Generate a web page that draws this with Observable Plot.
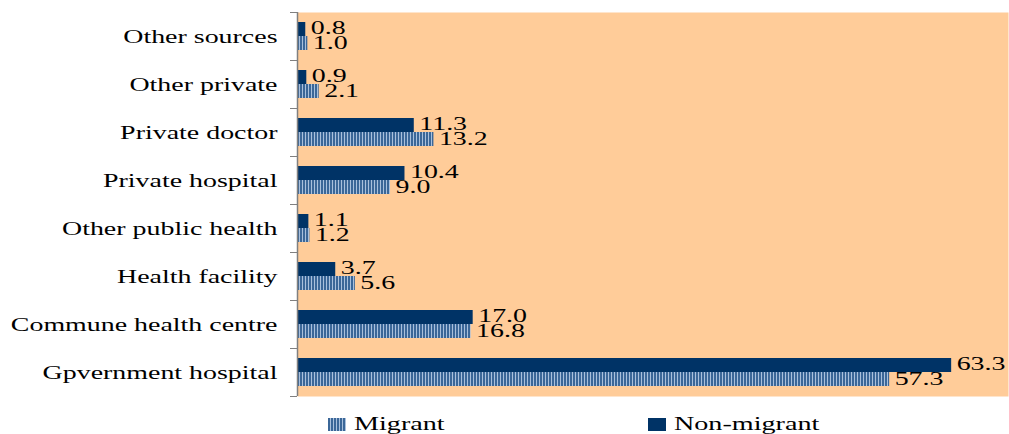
<!DOCTYPE html>
<html>
<head>
<meta charset="utf-8">
<script src="https://cdn.jsdelivr.net/npm/d3@7"></script>
<script src="https://cdn.jsdelivr.net/npm/@observablehq/plot@0.6"></script>
<style>
  html, body { margin: 0; padding: 0; background: #fff; }
  #chart { position: relative; width: 1009px; height: 434px; }
  #legend { position: absolute; left: 0; top: 413px; width: 1009px; height: 21px;
    font-family: "Liberation Serif", serif; font-size: 19px; color: #000; }
  .item { position: absolute; top: 0px; display: flex; align-items: center; }
  .sw { width: 18px; height: 13px; margin-right: 8px; }
  .lbl { display: inline-block; transform: scaleX(1.48); transform-origin: left center; }
</style>
</head>
<body>
<div id="chart"></div>
<script>
const categories = ["Other sources", "Other private", "Private doctor", "Private hospital",
  "Other public health", "Health facility", "Commune health centre", "Gpvernment hospital"];
const migrant =    [1.0, 2.1, 13.2, 9.0, 1.2, 5.6, 16.8, 57.3];
const nonMigrant = [0.8, 0.9, 11.3, 10.4, 1.1, 3.7, 17.0, 63.3];
const seriesNames = ["Migrant", "Non-migrant"];

const mData = categories.map((c, i) => ({category: c, value: migrant[i]}));
const nData = categories.map((c, i) => ({category: c, value: nonMigrant[i]}));

const font = "Liberation Serif";
const plot = Plot.plot({
  width: 1009,
  height: 400,
  marginLeft: 297,
  marginRight: 1,
  marginTop: 12,
  marginBottom: 4,
  style: {fontFamily: font, background: "transparent"},
  x: {domain: [0, 68.8], axis: null},
  y: {domain: categories, padding: 0, axis: null},
  marks: [
    Plot.frame({fill: "#FFCC99", stroke: null}),
    Plot.barX(nData, {x: "value", y: "category", fill: "#003366", insetTop: 10, insetBottom: 24}),
    Plot.barX(mData, {x: "value", y: "category", fill: "url(#migrantStripes)", insetTop: 24, insetBottom: 10}),
    Plot.text(nData, {x: "value", y: "category", text: d => d.value.toFixed(1), dx: 5, dy: -8,
      textAnchor: "start", fontSize: 18, fill: "#000", className: "stretchv"}),
    Plot.text(mData, {x: "value", y: "category", text: d => d.value.toFixed(1), dx: 5, dy: 7,
      textAnchor: "start", fontSize: 18, fill: "#000", className: "stretchv"}),
    Plot.axisY({tickSize: 0, tickPadding: 20, fontSize: 19, fill: "#000", anchor: "left", label: null, className: "stretcha"}),
    Plot.axisY({tickSize: 7, dy: -24, tickFormat: () => "", stroke: "#808080", anchor: "left", label: null}),
    Plot.axisY({ticks: [categories[categories.length - 1]], tickSize: 7, dy: 24, tickFormat: () => "", stroke: "#808080", anchor: "left", label: null}),
    Plot.ruleX([0], {stroke: "#808080", strokeWidth: 1.5})
  ]
});

// horizontally stretched serif text, as in the reference
function stretch(sel, s) {
  d3.select(plot).selectAll(sel).each(function() {
    const t = this.getAttribute("transform") || "";
    this.setAttribute("transform", t + ` scale(${s},1)`);
  });
}
stretch(".stretchv text", 1.55);
stretch(".stretcha text", 1.47);

const defs = d3.create("svg:defs");
const pat = defs.append("pattern").attr("id", "migrantStripes").attr("patternUnits", "userSpaceOnUse")
  .attr("width", 3).attr("height", 10);
pat.append("rect").attr("width", 3).attr("height", 10).attr("fill", "#3B6798");
pat.append("rect").attr("x", 2).attr("width", 1).attr("height", 10).attr("fill", "#A9C0DC");
plot.insertBefore(defs.node(), plot.firstChild);

const chart = document.getElementById("chart");
chart.appendChild(plot);

const legend = document.createElement("div");
legend.id = "legend";
const stripe = "repeating-linear-gradient(90deg, #3B6798 0px, #3B6798 2px, #A9C0DC 2px, #A9C0DC 3px)";
const items = [
  {name: seriesNames[0], bg: stripe, left: 328},
  {name: seriesNames[1], bg: "#003366", left: 648}
];
for (const it of items) {
  const el = document.createElement("div");
  el.className = "item";
  el.style.left = it.left + "px";
  const sw = document.createElement("span");
  sw.className = "sw";
  sw.style.background = it.bg;
  const t = document.createElement("span");
  t.className = "lbl";
  t.textContent = it.name;
  el.appendChild(sw); el.appendChild(t);
  legend.appendChild(el);
}
chart.appendChild(legend);
</script>
</body>
</html>
